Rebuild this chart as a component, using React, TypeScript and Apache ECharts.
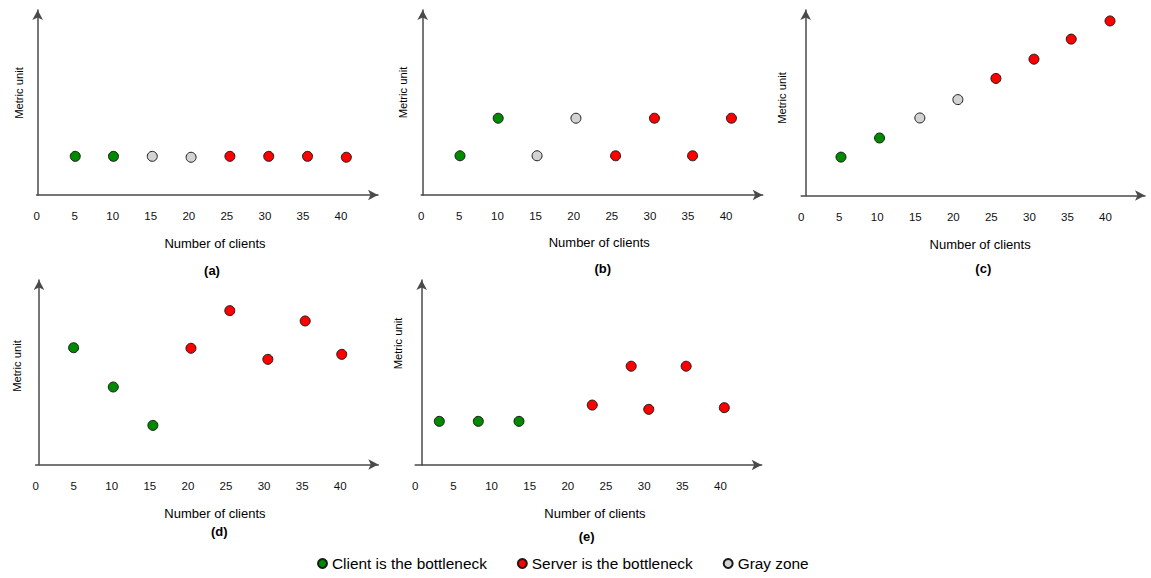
import React, { useEffect, useRef } from 'react';
import * as echarts from 'echarts';

const FONT = '"Liberation Sans", Arial, Helvetica, sans-serif';

// Classes: 0 = client bottleneck, 1 = server bottleneck, 2 = gray zone
const classNames = ['Client is the bottleneck', 'Server is the bottleneck', 'Gray zone'];
const classColors = ['#008a00', '#ff0000', '#d3d3d3'];

const panelLabels = ['(a)', '(b)', '(c)', '(d)', '(e)'];
const xAxisTitle = 'Number of clients';
const yAxisTitle = 'Metric unit';
const xTickInterval = 5;
const xLastTick = 40;

// Panel (a)
const clientsA = [5.08, 10.1, 15.2, 20.3, 25.4, 30.5, 35.6, 40.7];
const metricA = [20.9, 20.9, 20.9, 20.4, 20.9, 20.9, 20.9, 20.4];
const zoneA = [0, 0, 2, 2, 1, 1, 1, 1];

// Panel (b)
const clientsB = [5.09, 10.1, 15.2, 20.3, 25.5, 30.6, 35.6, 40.7];
const metricB = [21.2, 41.5, 21.2, 41.5, 21.2, 41.5, 21.2, 41.5];
const zoneB = [0, 0, 2, 2, 1, 1, 1, 1];

// Panel (c)
const clientsC = [5.23, 10.3, 15.6, 20.6, 25.6, 30.6, 35.5, 40.6];
const metricC = [20.7, 31.0, 41.8, 51.7, 63.1, 73.5, 84.3, 94.1];
const zoneC = [0, 0, 2, 2, 1, 1, 1, 1];

// Panel (d)
const clientsD = [4.99, 10.2, 15.4, 20.4, 25.5, 30.5, 35.4, 40.2];
const metricD = [63.3, 42.0, 21.2, 63.0, 83.4, 57.0, 77.8, 59.7];
const zoneD = [0, 0, 0, 1, 1, 1, 1, 1];

// Panel (e)
const clientsE = [3.16, 8.27, 13.6, 23.2, 28.3, 30.6, 35.5, 40.5];
const metricE = [23.6, 23.6, 23.6, 32.4, 53.4, 30.1, 53.4, 31.0];
const zoneE = [0, 0, 0, 1, 1, 1, 1, 1];

const panelClients = [clientsA, clientsB, clientsC, clientsD, clientsE];
const panelMetric = [metricA, metricB, metricC, metricD, metricE];
const panelZone = [zoneA, zoneB, zoneC, zoneD, zoneE];
const xMaxes = [44.86, 44.8, 45.2, 45.0, 45.4];

// Layout (pixels)
const gridLefts = [36.6, 421.2, 801.2, 35.6, 415.2];
const gridTops = [10, 10, 10, 280, 280];
const gridWidths = [341.4, 341.5, 343.8, 342.7, 346.5];
const gridHeights = [185, 185, 185.5, 184.5, 185];
const yAxisShift = [1.1, 1.5, 4.5, 3.4, 6.5];
const yNameGap = [13.5, 14, 18, 16.5, 18.5];
const yNameRaise = [9.5, 10, 4.75, 6.25, 29];
const xNameGap = [42, 41, 42, 42, 42];
const xNameShift = [7.7, 7.3, 7, 8, 6.5];
const captionX = [212, 602.7, 983.3, 219.3, 586.7];
const captionY = [270, 268, 268, 531.7, 536.7];

export default function App() {
  const ref = useRef<HTMLDivElement>(null);

  useEffect(() => {
    if (!ref.current) return;
    const chart = echarts.init(ref.current, null, { renderer: 'svg' });

    const grids = panelLabels.map((_, i) => ({
      left: gridLefts[i],
      top: gridTops[i],
      width: gridWidths[i],
      height: gridHeights[i],
      containLabel: false,
    }));

    const axisLineStyle = { color: '#4a4a4a', width: 1.5 };

    const xAxes = panelLabels.map((_, i) => ({
      type: 'value',
      gridIndex: i,
      min: 0,
      max: xMaxes[i],
      interval: xTickInterval,
      name: xAxisTitle,
      nameLocation: 'middle',
      nameGap: xNameGap[i],
      nameTextStyle: {
        fontFamily: FONT,
        fontSize: 13,
        color: '#000',
        padding: [0, 0, 0, xNameShift[i] * 2],
      },
      axisLine: {
        show: true,
        onZero: false,
        lineStyle: axisLineStyle,
        symbol: ['none', 'arrow'],
        symbolSize: [8, 10],
      },
      axisTick: { show: false },
      splitLine: { show: false },
      axisLabel: {
        margin: 15,
        fontFamily: FONT,
        fontSize: 11.5,
        color: '#111',
        showMaxLabel: false,
        formatter: (v: number) => (v > xLastTick ? '' : String(v)),
      },
    }));

    const yAxes = panelLabels.map((_, i) => ({
      type: 'value',
      gridIndex: i,
      min: 0,
      max: 100,
      offset: -yAxisShift[i],
      name: yAxisTitle,
      nameLocation: 'middle',
      nameGap: yNameGap[i],
      nameTextStyle: {
        fontFamily: FONT,
        fontSize: 11.2,
        color: '#000',
        padding: [0, 0, 0, yNameRaise[i] * 2],
      },
      axisLine: {
        show: true,
        onZero: false,
        lineStyle: axisLineStyle,
        symbol: ['none', 'arrow'],
        symbolSize: [8, 10],
      },
      axisTick: { show: false },
      splitLine: { show: false },
      axisLabel: { show: false },
    }));

    const series: any[] = [];
    panelLabels.forEach((_, i) => {
      [0, 1, 2].forEach((cls) => {
        const data: number[][] = [];
        panelZone[i].forEach((z, k) => {
          if (z === cls) data.push([panelClients[i][k], panelMetric[i][k]]);
        });
        if (!data.length) return;
        series.push({
          type: 'scatter',
          name: classNames[cls],
          xAxisIndex: i,
          yAxisIndex: i,
          data,
          symbol: 'circle',
          symbolSize: 10,
          itemStyle: {
            color: classColors[cls],
            borderColor: '#1a1a1a',
            borderWidth: 1,
            opacity: 1,
          },
          emphasis: { disabled: true },
        });
      });
    });

    const captions = panelLabels.map((t, i) => ({
      type: 'text',
      x: captionX[i],
      y: captionY[i],
      style: {
        text: t,
        fontFamily: FONT,
        fontSize: 13,
        fontWeight: 'bold',
        fill: '#000',
        align: 'center',
        verticalAlign: 'middle',
      },
    }));

    chart.setOption({
      animation: false,
      backgroundColor: '#ffffff',
      grid: grids,
      xAxis: xAxes,
      yAxis: yAxes,
      legend: {
        data: classNames,
        left: 317,
        top: 556,
        padding: 0,
        icon: 'circle',
        itemWidth: 9,
        itemHeight: 9,
        itemGap: 30,
        selectedMode: false,
        textStyle: { fontFamily: FONT, fontSize: 15.4, color: '#000' },
      },
      graphic: captions,
      series,
    });

    return () => chart.dispose();
  }, []);

  return (
    <div
      ref={ref}
      style={{ position: 'fixed', left: 0, top: 0, width: 1151, height: 578, background: '#fff' }}
    />
  );
}
